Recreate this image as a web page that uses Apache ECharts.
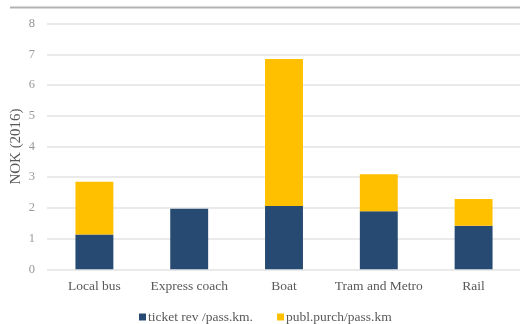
<!DOCTYPE html>
<html>
<head>
<meta charset="utf-8">
<script src="https://cdn.jsdelivr.net/npm/echarts@6/dist/echarts.min.js"></script>
<style>
  html, body { margin: 0; padding: 0; background: #fff; }
  #chart { width: 520px; height: 324px; }
</style>
</head>
<body>
<div id="chart"></div>
<script>
const categories = ['Local bus', 'Express coach', 'Boat', 'Tram and Metro', 'Rail']
const ticketRev = [1.13, 1.97, 2.06, 1.89, 1.42]
const publPurch = [1.72, 0, 4.79, 1.21, 0.87]
const yTicks = [0, 1, 2, 3, 4, 5, 6, 7, 8]

const font = '"Liberation Serif", "DejaVu Serif", serif'
const chart = echarts.init(document.getElementById('chart'))

chart.setOption({
  backgroundColor: '#fff',
  textStyle: { fontFamily: font },
  animation: false,
  graphic: [{
    type: 'line',
    shape: { x1: 10, y1: 7.5, x2: 520, y2: 7.5 },
    style: { stroke: '#b3b3b3', lineWidth: 2 },
  }],
  grid: { left: 47, right: -1, top: 23.7, bottom: 54.7, outerBoundsMode: 'none', containLabel: false },
  legend: {
    top: 310,
    left: 139,
    padding: 0,
    itemWidth: 7,
    itemHeight: 7,
    itemGap: 24,
    icon: 'rect',
    textStyle: { color: '#595959', fontSize: 13.5, fontFamily: font, padding: [0, 0, 0, -3] },
  },
  xAxis: {
    type: 'category',
    data: categories,
    axisLine: { show: false },
    axisTick: { show: false },
    axisLabel: { color: '#595959', fontSize: 13.5, margin: 10, interval: 0, fontFamily: font },
  },
  yAxis: {
    type: 'value',
    min: yTicks[0],
    max: yTicks[yTicks.length - 1],
    interval: 1,
    name: 'NOK (2016)',
    nameLocation: 'middle',
    nameGap: 23,
    nameMoveOverlap: false,
    nameTextStyle: { color: '#595959', fontSize: 15, fontFamily: font },
    axisLine: { show: false },
    axisTick: { show: false },
    axisLabel: { color: '#999999', fontSize: 12.5, margin: 12, fontFamily: font },
    splitLine: { lineStyle: { color: '#e3e3e3', width: 1.5 } },
  },
  series: [
    {
      name: 'ticket rev /pass.km.',
      type: 'bar',
      stack: 'total',
      barCategoryGap: '60%',
      data: ticketRev,
      itemStyle: { color: '#264a71' },
    },
    {
      name: 'publ.purch/pass.km',
      type: 'bar',
      stack: 'total',
      barCategoryGap: '60%',
      data: publPurch,
      itemStyle: { color: '#ffc000' },
    },
  ],
})
</script>
</body>
</html>
